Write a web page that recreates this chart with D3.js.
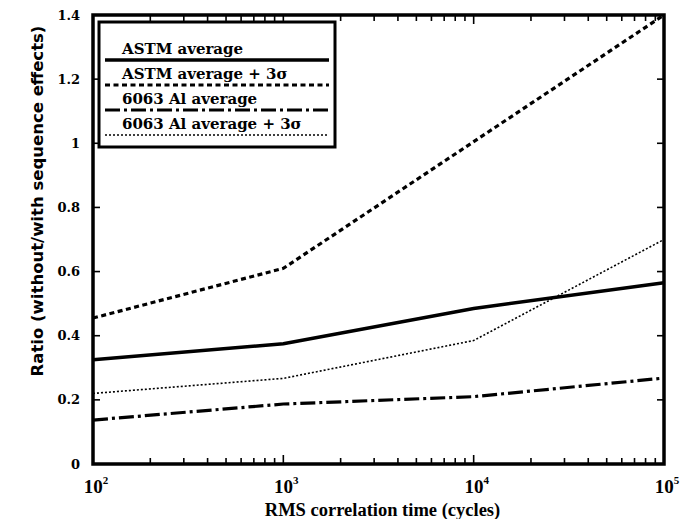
<!DOCTYPE html>
<html>
<head>
<meta charset="utf-8">
<script src="https://cdn.jsdelivr.net/npm/d3@7"></script>
<style>
  body { margin: 0; background: #fff; }
  svg text { fill: #000; }
</style>
</head>
<body>
<svg width="680" height="519"></svg>
<script>
// data
const cycles = [1e2, 1e3, 1e4, 1e5];
const astmAvg = [0.325, 0.375, 0.485, 0.565];
const astmAvg3s = [0.455, 0.61, 1.005, 1.4];
const alAvg = [0.137, 0.187, 0.21, 0.268];
const alAvg3s = [0.22, 0.267, 0.385, 0.7];
const xTickExp = [2, 3, 4, 5];
const yTicks = [0, 0.2, 0.4, 0.6, 0.8, 1, 1.2, 1.4];
const seriesNames = ["ASTM average", "ASTM average + 3σ", "6063 Al average", "6063 Al average + 3σ"];

const svg = d3.select("svg"),
  margin = { top: 15, right: 16, bottom: 55, left: 93 },
  width = +svg.attr("width") - margin.left - margin.right,
  height = +svg.attr("height") - margin.top - margin.bottom,
  g = svg.append("g").attr("transform", `translate(${margin.left},${margin.top})`);

const x = d3.scaleLog().domain([1e2, 1e5]).range([0, width]);
const y = d3.scaleLinear().domain([0, 1.4]).range([height, 0]);

// line styles per series
const styles = [
  { w: 3.5, dash: null },
  { w: 3.2, dash: "5,3.5" },
  { w: 3.2, dash: "15,4,3,4" },
  { w: 1.6, dash: "2,2" }
];
const series = [astmAvg, astmAvg3s, alAvg, alAvg3s];

const line = d3.line().x((d) => x(d[0])).y((d) => y(d[1]));

series.forEach((vals, i) => {
  g.append("path")
    .datum(cycles.map((c, j) => [c, vals[j]]))
    .attr("fill", "none")
    .attr("stroke", "#000")
    .attr("stroke-width", styles[i].w)
    .attr("stroke-dasharray", styles[i].dash)
    .attr("d", line);
});

// minor + major ticks along x (bottom and top), pointing inward
const xTicks = [];
for (let e = 2; e < 5; e++) for (let m = 1; m < 10; m++) xTicks.push(m * Math.pow(10, e));
xTicks.push(1e5);
xTicks.forEach((t) => {
  const len = Math.log10(t) % 1 === 0 ? 9 : 6;
  g.append("line").attr("x1", x(t)).attr("x2", x(t)).attr("y1", height).attr("y2", height - len)
    .attr("stroke", "#000").attr("stroke-width", 1.6);
  g.append("line").attr("x1", x(t)).attr("x2", x(t)).attr("y1", 0).attr("y2", len)
    .attr("stroke", "#000").attr("stroke-width", 1.6);
});
yTicks.forEach((t) => {
  g.append("line").attr("x1", 0).attr("x2", 7).attr("y1", y(t)).attr("y2", y(t))
    .attr("stroke", "#000").attr("stroke-width", 1.6);
  g.append("line").attr("x1", width).attr("x2", width - 7).attr("y1", y(t)).attr("y2", y(t))
    .attr("stroke", "#000").attr("stroke-width", 1.6);
});

// frame
g.append("rect").attr("width", width).attr("height", height)
  .attr("fill", "none").attr("stroke", "#000").attr("stroke-width", 3.5);

// y tick labels
g.selectAll(".ylab").data(yTicks).enter().append("text")
  .attr("x", -13).attr("y", (d) => y(d)).attr("dy", "0.35em")
  .attr("text-anchor", "end")
  .style("font", "bold 13px 'DejaVu Serif'")
  .text((d) => d);

// x tick labels 10^n
const xl = g.selectAll(".xlab").data(xTickExp).enter().append("text")
  .attr("x", (d) => x(Math.pow(10, d)) + 3)
  .attr("y", height + 29)
  .attr("text-anchor", "middle")
  .style("font", "bold 19px 'Liberation Serif'");
xl.append("tspan").text("10");
xl.append("tspan").attr("dy", -9).attr("dx", 0).style("font-size", "11px").text((d) => d);

// axis titles
svg.append("text")
  .attr("x", margin.left + width / 2 + 4).attr("y", 516)
  .attr("text-anchor", "middle")
  .style("font", "bold 18.5px 'Liberation Serif'")
  .text("RMS correlation time (cycles)");
svg.append("text")
  .attr("transform", `translate(43,${margin.top + 186}) rotate(-90)`)
  .attr("text-anchor", "middle")
  .style("font", "bold 16.5px 'DejaVu Sans'")
  .text("Ratio (without/with sequence effects)");

// legend
const legend = svg.append("g").attr("transform", "translate(99,22)");
legend.append("rect").attr("width", 236).attr("height", 125)
  .attr("fill", "#fff").attr("stroke", "#000").attr("stroke-width", 3);
seriesNames.forEach((name, i) => {
  const yy = 38 + i * 25;
  legend.append("text").attr("x", 23).attr("y", yy - 6)
    .style("font", "bold 15px 'DejaVu Serif'").text(name);
  legend.append("line").attr("x1", 6).attr("x2", 230).attr("y1", yy).attr("y2", yy)
    .attr("stroke", "#000").attr("stroke-width", styles[i].w)
    .attr("stroke-dasharray", styles[i].dash);
});
</script>
</body>
</html>
